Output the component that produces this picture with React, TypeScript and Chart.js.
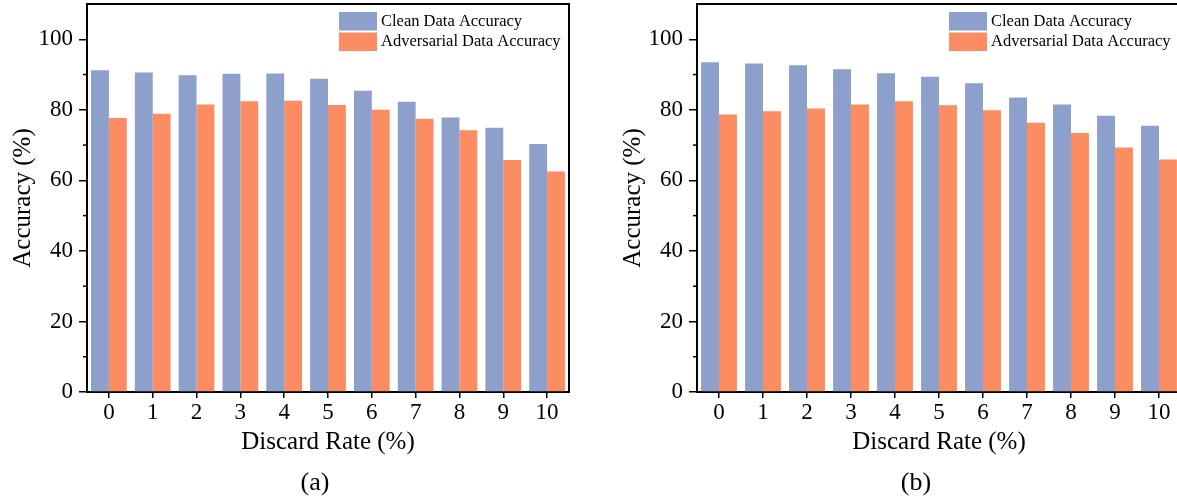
import React, { useEffect, useRef } from 'react';
import { Chart, registerables } from 'chart.js';

Chart.register(...registerables);

const categories = ['0', '1', '2', '3', '4', '5', '6', '7', '8', '9', '10'];
const cleanA = [91.2, 90.6, 89.8, 90.2, 90.3, 88.8, 85.4, 82.3, 77.8, 74.9, 70.3];
const advA = [77.7, 78.9, 81.5, 82.4, 82.6, 81.4, 80.0, 77.5, 74.2, 65.8, 62.5];
const cleanB = [93.5, 93.1, 92.6, 91.5, 90.4, 89.4, 87.5, 83.5, 81.5, 78.3, 75.5];
const advB = [78.7, 79.6, 80.4, 81.5, 82.4, 81.3, 79.9, 76.3, 73.4, 69.3, 65.9];
const yMajorTicks = [0, 20, 40, 60, 80, 100];
const yMinorTicks = [10, 30, 50, 70, 90];
const seriesLabels = ['Clean Data Accuracy', 'Adversarial Data Accuracy'];
const seriesColors = ['#8DA0CB', '#FC8D62'];
const xTitle = 'Discard Rate (%)';
const yTitle = 'Accuracy (%)';

const FONT = '"Liberation Serif", "Times New Roman", serif';

const decorPlugin = {
  id: 'decor',
  afterDraw(chart: any) {
    const { ctx, chartArea } = chart;
    const ys = chart.scales.y;
    ctx.save();
    ctx.strokeStyle = '#000';
    ctx.lineWidth = 2;
    // frame top and right
    ctx.beginPath();
    ctx.moveTo(chartArea.left - 1, chartArea.top);
    ctx.lineTo(chartArea.right, chartArea.top);
    ctx.lineTo(chartArea.right, chartArea.bottom + 1);
    ctx.stroke();
    // minor ticks
    ctx.lineWidth = 1.5;
    yMinorTicks.forEach((v) => {
      const py = ys.getPixelForValue(v);
      ctx.beginPath();
      ctx.moveTo(chartArea.left - 4, py);
      ctx.lineTo(chartArea.left, py);
      ctx.stroke();
    });
    // legend
    const lx = chartArea.left + 252;
    const rows = [12, 32.5];
    ctx.font = `16.5px ${FONT}`;
    ctx.textBaseline = 'middle';
    ctx.textAlign = 'left';
    chart.data.datasets.forEach((ds: any, i: number) => {
      const top = rows[i];
      ctx.fillStyle = ds.backgroundColor;
      ctx.fillRect(lx, top, 38, 18.5);
      ctx.fillStyle = '#000';
      ctx.fillText(ds.label, lx + 42, top + 9.5);
    });
    ctx.restore();
  },
};

function BarPanel(props: { clean: number[]; adv: number[]; left: number; padRight: number }) {
  const ref = useRef<HTMLCanvasElement>(null);
  useEffect(() => {
    if (!ref.current) return;
    const chart = new Chart(ref.current, {
      type: 'bar',
      data: {
        labels: categories,
        datasets: [
          { label: seriesLabels[0], data: props.clean, backgroundColor: seriesColors[0], borderWidth: 0 },
          { label: seriesLabels[1], data: props.adv, backgroundColor: seriesColors[1], borderWidth: 0 },
        ],
      },
      options: {
        responsive: false,
        animation: false,
        devicePixelRatio: 1,
        layout: { padding: { left: 0, top: 4, right: props.padRight, bottom: 46 } },
        datasets: { bar: { categoryPercentage: 0.815, barPercentage: 1.0 } },
        plugins: { legend: { display: false }, tooltip: { enabled: false }, title: { display: false } },
        scales: {
          x: {
            type: 'category',
            offset: true,
            grid: { display: true, offset: false, drawOnChartArea: false, drawTicks: true, tickLength: 6, color: '#000', lineWidth: 1.5 },
            border: { display: true, color: '#000', width: 2 },
            ticks: { color: '#000', font: { family: FONT, size: 23 }, padding: 1, maxRotation: 0 },
            title: { display: true, text: xTitle, color: '#000', font: { family: FONT, size: 25 }, padding: { top: 0, bottom: 0 } },
            afterFit: (s: any) => { s.height = 65; s.paddingLeft = 0; s.paddingRight = 0; },
          },
          y: {
            min: 0,
            max: 110,
            grid: { display: true, drawOnChartArea: false, drawTicks: true, tickLength: 8, color: '#000', lineWidth: 1.5 },
            border: { display: true, color: '#000', width: 2 },
            ticks: { color: '#000', font: { family: FONT, size: 23 }, padding: 6 },
            afterBuildTicks: (s: any) => { s.ticks = yMajorTicks.map((v) => ({ value: v })); },
            title: { display: true, text: yTitle, color: '#000', font: { family: FONT, size: 25 }, padding: { top: 8, bottom: 0 } },
            afterFit: (s: any) => { s.width = 87; s.paddingTop = 0; s.paddingBottom = 0; },
          },
        },
      },
      plugins: [decorPlugin],
    } as any);
    return () => chart.destroy();
  }, []);
  return (
    <canvas
      ref={ref}
      width={600}
      height={503}
      style={{ position: 'absolute', left: props.left, top: 0, width: 600, height: 503 }}
    />
  );
}

const capStyle: React.CSSProperties = {
  position: 'absolute',
  top: 467,
  fontFamily: FONT,
  fontSize: 26,
  lineHeight: '30px',
  width: 60,
  textAlign: 'center',
  color: '#000',
};

export default function App() {
  return (
    <div style={{ position: 'absolute', left: 0, top: 0, width: 1177, height: 503, overflow: 'hidden', background: '#fff' }}>
      <BarPanel clean={cleanA} adv={advA} left={0} padRight={31} />
      <BarPanel clean={cleanB} adv={advB} left={610} padRight={29} />
      <div style={{ ...capStyle, left: 315 - 30 }}>(a)</div>
      <div style={{ ...capStyle, left: 916 - 30 }}>(b)</div>
    </div>
  );
}
